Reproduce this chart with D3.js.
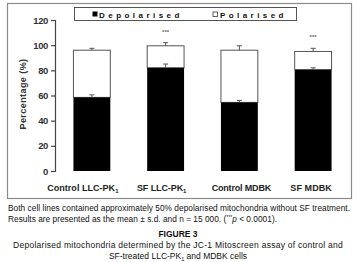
<!DOCTYPE html>
<html>
<head>
<meta charset="utf-8">
<script src="https://cdn.jsdelivr.net/npm/d3@7"></script>
<style>
  html, body { margin: 0; padding: 0; background: #fff; }
  svg { display: block; font-family: "Liberation Sans", Arial, sans-serif; }
</style>
</head>
<body>
<div id="chart"></div>
<script>
const categories = ["Control LLC-PK1", "SF LLC-PK1", "Control MDBK", "SF MDBK"];
const depolarised = [58.5, 82, 54.5, 80.5];
const polarised = [37.5, 17.5, 41.5, 14.5];
const depolarisedSd = [2, 3, 1.5, 1.5];
const totalSd = [1.5, 2.5, 3.5, 2.5];
const significant = [false, true, false, true];
const yTicks = [0, 20, 40, 60, 80, 100, 120];

const W = 357, H = 262;
const svg = d3.select("#chart").append("svg").attr("width", W).attr("height", H);

// stretch or squeeze a text to a given width through its letter spacing
function fitWidth(sel, target) {
  const node = sel.node();
  const n = node.textContent.length;
  const w = node.getBBox().width;
  sel.attr("letter-spacing", ((target - w) / n).toFixed(3));
}

// frame around the plot
svg.append("rect")
  .attr("x", 7.5).attr("y", 3.5).attr("width", 344).attr("height", 195)
  .attr("fill", "#fff").attr("stroke", "#8a8a8a").attr("stroke-width", 1.2);

const y = d3.scaleLinear().domain([0, 120]).range([171, 20]);
const x = d3.scaleBand().domain(categories).range([55, 350]).paddingInner(0.5).paddingOuter(0.25);

const axis = svg.append("g").attr("transform", "translate(55,0)")
  .call(d3.axisLeft(y).tickValues(yTicks).tickSize(4).tickPadding(3));
axis.select(".domain").attr("stroke", "#444").attr("stroke-width", 1.2);
axis.selectAll(".tick line").attr("stroke", "#444").attr("stroke-width", 1.2);
axis.selectAll(".tick text")
  .attr("fill", "#333").attr("font-size", 9.5).attr("font-weight", "bold")
  .attr("font-family", "'Liberation Sans', Arial, sans-serif")
  .attr("letter-spacing", -0.4);

const yTitle = svg.append("text")
  .attr("transform", "translate(26,94) rotate(-90)")
  .attr("text-anchor", "middle").attr("font-size", 9).attr("font-weight", "bold")
  .attr("fill", "#333").text("Percentage (%)");
fitWidth(yTitle, 71);

const rows = categories.map((c, i) => ({
  c, dep: depolarised[i], pol: polarised[i], dsd: depolarisedSd[i], tsd: totalSd[i], sig: significant[i]
}));

const bars = svg.append("g");
// polarised (stacked on top, white)
bars.selectAll(".pol").data(rows).join("rect")
  .attr("x", d => x(d.c)).attr("width", x.bandwidth())
  .attr("y", d => y(d.dep + d.pol)).attr("height", d => y(d.dep) - y(d.dep + d.pol))
  .attr("fill", "#fff").attr("stroke", "#555").attr("stroke-width", 1);
// depolarised (black)
bars.selectAll(".dep").data(rows).join("rect")
  .attr("x", d => x(d.c)).attr("width", x.bandwidth())
  .attr("y", d => y(d.dep)).attr("height", d => y(0) - y(d.dep))
  .attr("fill", "#000");

// error bars
const err = [];
rows.forEach(d => {
  err.push({ c: d.c, v: d.dep, sd: d.dsd });
  err.push({ c: d.c, v: d.dep + d.pol, sd: d.tsd });
});
const eg = svg.append("g").attr("stroke", "#555").attr("stroke-width", 1);
eg.selectAll(".ev").data(err).join("line")
  .attr("x1", d => x(d.c) + x.bandwidth() / 2).attr("x2", d => x(d.c) + x.bandwidth() / 2)
  .attr("y1", d => y(d.v)).attr("y2", d => y(d.v + d.sd));
eg.selectAll(".ec").data(err).join("line")
  .attr("x1", d => x(d.c) + x.bandwidth() / 2 - 2.5).attr("x2", d => x(d.c) + x.bandwidth() / 2 + 2.5)
  .attr("y1", d => y(d.v + d.sd)).attr("y2", d => y(d.v + d.sd));

// significance marks
svg.selectAll(".sig").data(rows.filter(d => d.sig)).join("text")
  .attr("x", d => x(d.c) + x.bandwidth() / 2)
  .attr("y", d => y(d.dep + d.pol + d.tsd) - 9)
  .attr("text-anchor", "middle").attr("font-size", 6).attr("font-weight", "bold")
  .attr("fill", "#666").text("***");

// category labels (the original sits them a little off the bar centres)
const labelDx = [-9, -4, 2, -2];
const labelW = [72, 50, 60, 42];
svg.selectAll(".cat").data(categories).join("text")
  .attr("x", (d, i) => x(d) + x.bandwidth() / 2 + labelDx[i]).attr("y", 191)
  .attr("text-anchor", "middle").attr("font-size", 9).attr("font-weight", "bold")
  .attr("fill", "#222")
  .each(function (d, i) {
    const t = d3.select(this);
    if (d.endsWith("PK1")) {
      t.append("tspan").text(d.slice(0, -1));
      t.append("tspan").attr("font-size", 6).attr("dy", 2).text("1");
    } else {
      t.text(d);
    }
    fitWidth(t, labelW[i]);
  });

// legend
const lg = svg.append("g");
lg.append("rect").attr("x", 74.5).attr("y", 7.5).attr("width", 222).attr("height", 13)
  .attr("fill", "#fff").attr("stroke", "#555").attr("stroke-width", 1);
lg.append("rect").attr("x", 92.5).attr("y", 11.5).attr("width", 5).attr("height", 5).attr("fill", "#000");
const lgDep = lg.append("text").attr("x", 99).attr("y", 17.5).attr("font-size", 8).attr("font-weight", "bold")
  .attr("fill", "#111").text("Depolarised");
fitWidth(lgDep, 84);
lg.append("rect").attr("x", 213).attr("y", 12).attr("width", 4.5).attr("height", 4.5)
  .attr("fill", "#fff").attr("stroke", "#333").attr("stroke-width", 0.8);
const lgPol = lg.append("text").attr("x", 220).attr("y", 17.5).attr("font-size", 8).attr("font-weight", "bold")
  .attr("fill", "#111").text("Polarised");
fitWidth(lgPol, 67);

// caption
const cap = svg.append("g").attr("fill", "#111");
const notes = cap.append("g").attr("font-size", 8.3);
const l1 = notes.append("text").attr("x", 8).attr("y", 211)
  .text("Both cell lines contained approximately 50% depolarised mitochondria without SF treatment.");
fitWidth(l1, 342);
const l2 = notes.append("text").attr("x", 8).attr("y", 222);
l2.append("tspan").text("Results are presented as the mean \u00b1 s.d. and n = 15 000. (");
l2.append("tspan").attr("font-size", 5).attr("dy", -3).text("***");
l2.append("tspan").attr("dy", 3).attr("font-style", "italic").text("p");
l2.append("tspan").text(" < 0.0001).");
fitWidth(l2, 269);
cap.append("text").attr("x", 178).attr("y", 237).attr("text-anchor", "middle")
  .attr("font-weight", "bold").attr("font-size", 8.5).text("FIGURE 3");
const l4 = cap.append("text").attr("x", 178).attr("y", 248).attr("text-anchor", "middle").attr("font-size", 8.5)
  .text("Depolarised mitochondria determined by the JC-1 Mitoscreen assay of control and");
fitWidth(l4, 330);
const l5 = cap.append("text").attr("x", 178).attr("y", 259).attr("text-anchor", "middle").attr("font-size", 8.5);
l5.append("tspan").text("SF-treated LLC-PK");
l5.append("tspan").attr("font-size", 5.5).attr("dy", 2).text("1");
l5.append("tspan").attr("dy", -2).text(" and MDBK cells");
</script>
</body>
</html>
